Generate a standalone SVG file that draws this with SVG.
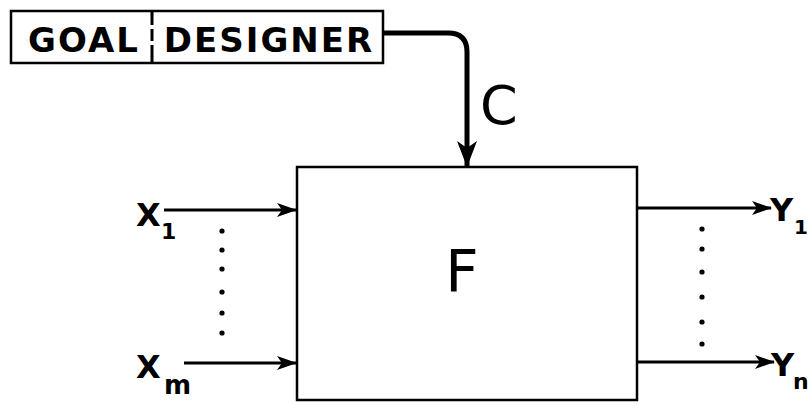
<svg xmlns="http://www.w3.org/2000/svg" width="809" height="404" viewBox="0 0 809 404">
<defs>
<style>
.ln{fill:none;stroke:#000;stroke-width:3}
.thick{stroke-width:5}
.tx{font-family:"DejaVu Sans","Liberation Sans",sans-serif;fill:#000}
.dot{fill:#000}
</style>
<marker id="ah" viewBox="0 0 20 14" refX="19" refY="7" markerWidth="20" markerHeight="14" markerUnits="userSpaceOnUse" orient="auto">
<path d="M0,0 L20,7 L0,14 L5,7 Z" fill="#000"/>
</marker>
<marker id="ahb" viewBox="0 0 26 20" refX="25" refY="10" markerWidth="26" markerHeight="20" markerUnits="userSpaceOnUse" orient="auto">
<path d="M0,0 L26,10 L0,20 L7,10 Z" fill="#000"/>
</marker>
</defs>
<rect width="809" height="404" fill="#fff"/>
<g id="goal-designer">
<rect x="11" y="11" width="372" height="52" fill="none" stroke="#000" stroke-width="2.5"/>
<line x1="152" y1="11" x2="152" y2="63" stroke="#000" stroke-width="3" stroke-dasharray="14,4,12,4,20"/>
<text class="tx" x="84" y="52" font-size="34" font-weight="bold" text-anchor="middle" letter-spacing="2">GOAL</text>
<text class="tx" x="269" y="52" font-size="34" font-weight="bold" text-anchor="middle" letter-spacing="2">DESIGNER</text>
</g>
<g id="F">
<rect x="297" y="167" width="340" height="233" fill="none" stroke="#000" stroke-width="2.5"/>
<text class="tx" x="462" y="292" font-size="58" text-anchor="middle">F</text>
</g>
<g id="labels">
<text class="tx" x="480" y="124" font-size="54">C</text>
<text class="tx" x="136" y="226" font-size="32" font-weight="bold">X</text>
<text class="tx" x="161" y="239" font-size="22" font-weight="bold">1</text>
<text class="tx" x="136" y="378" font-size="32" font-weight="bold">X</text>
<text class="tx" x="164" y="394" font-size="26" font-weight="bold">m</text>
<text class="tx" x="770" y="221" font-size="32" font-weight="bold">Y</text>
<text class="tx" x="794" y="234" font-size="20" font-weight="bold">1</text>
<text class="tx" x="771" y="376" font-size="32" font-weight="bold">Y</text>
<text class="tx" x="793" y="389" font-size="22" font-weight="bold">n</text>
</g>
<g id="connectors">
<path class="ln thick" d="M383,33 H448 Q467,33 467,52 V166" marker-end="url(#ahb)"/>
<line class="ln" x1="164" y1="210" x2="296" y2="210" marker-end="url(#ah)"/>
<line class="ln" x1="184" y1="363" x2="296" y2="363" marker-end="url(#ah)"/>
<line class="ln" x1="637" y1="208" x2="771" y2="208" marker-end="url(#ah)"/>
<line class="ln" x1="637" y1="362" x2="774" y2="362" marker-end="url(#ah)"/>
</g>
<g id="dots">
<circle class="dot" cx="222" cy="231" r="2.6"/>
<circle class="dot" cx="222" cy="250" r="2.6"/>
<circle class="dot" cx="222" cy="269" r="2.6"/>
<circle class="dot" cx="222" cy="292" r="2.6"/>
<circle class="dot" cx="222" cy="313" r="2.6"/>
<circle class="dot" cx="222" cy="333" r="2.6"/>
<circle class="dot" cx="702" cy="229" r="2.6"/>
<circle class="dot" cx="702" cy="249" r="2.6"/>
<circle class="dot" cx="702" cy="272" r="2.6"/>
<circle class="dot" cx="702" cy="297" r="2.6"/>
<circle class="dot" cx="702" cy="322" r="2.6"/>
<circle class="dot" cx="702" cy="344" r="2.6"/>
</g>
</svg>
